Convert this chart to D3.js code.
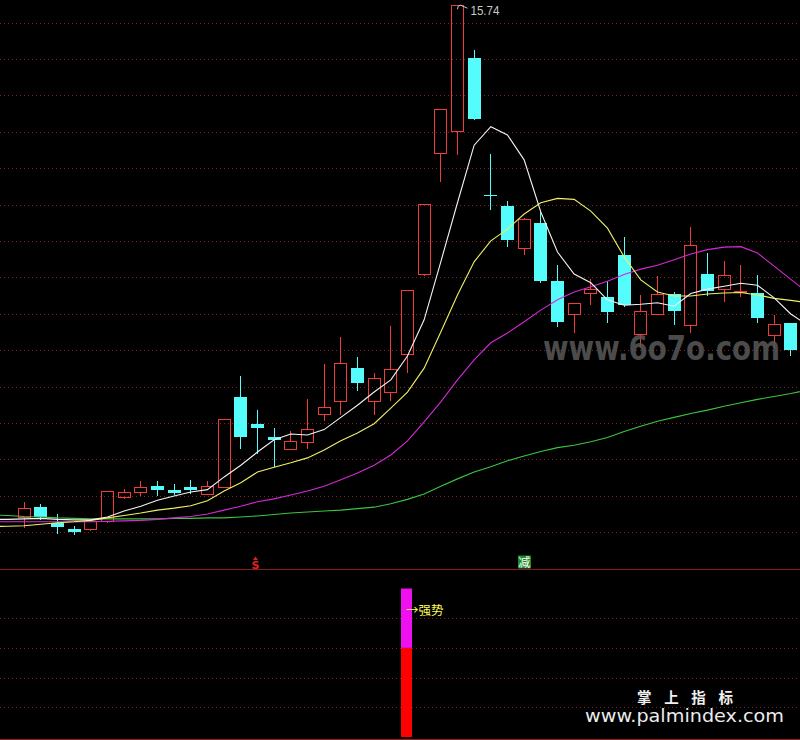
<!DOCTYPE html>
<html><head><meta charset="utf-8">
<script src="https://cdn.jsdelivr.net/npm/d3@7"></script>
<style>html,body{margin:0;padding:0;background:#000;overflow:hidden}</style>
</head><body><svg id="c" width="800" height="740"></svg>
<script>
// ---------- DATA ----------
const days = ["D00","D01","D02","D03","D04","D05","D06","D07","D08","D09","D10","D11","D12","D13","D14","D15","D16","D17","D18","D19","D20","D21","D22","D23","D24","D25","D26","D27","D28","D29","D30","D31","D32","D33","D34","D35","D36","D37","D38","D39","D40","D41","D42","D43","D44","D45","D46","D47","D48","D49"];
const openP  = [null,null,5.25,5.45,5.13,5.00,5.00,5.17,5.66,5.77,5.88,5.80,5.86,5.71,5.86,7.70,7.15,6.89,6.64,6.78,7.35,7.62,8.30,7.63,7.82,8.58,10.24,12.70,13.16,14.65,11.84,11.62,10.77,11.28,10.09,9.40,9.85,9.76,10.62,9.00,9.42,9.82,9.19,10.24,9.92,9.86,9.85,8.97,9.22,null];
const highP  = [null,null,5.55,5.52,5.32,5.06,5.17,5.78,5.82,5.99,5.99,5.93,6.01,5.99,7.25,8.14,7.44,7.07,7.01,7.67,8.39,8.94,8.52,8.21,9.16,9.90,11.66,13.61,15.74,14.82,12.69,11.73,11.38,11.50,10.41,9.63,10.13,10.09,10.99,9.80,10.19,9.87,11.19,10.67,10.50,10.41,10.20,9.39,9.22,null];
const lowP   = [null,null,5.02,5.21,4.93,4.91,4.96,5.13,5.62,5.68,5.70,5.71,5.75,5.69,5.84,6.67,6.57,6.29,6.64,6.64,7.22,7.34,7.85,7.34,7.63,8.21,10.19,12.11,12.66,13.41,11.56,10.81,10.61,10.06,9.17,9.03,9.59,9.25,9.57,8.74,9.41,9.21,9.03,9.79,9.65,9.76,9.25,8.71,8.57,null];
const closeP = [null,null,5.43,5.25,5.05,4.95,5.17,5.78,5.76,5.86,5.80,5.75,5.80,5.88,7.25,6.89,7.08,6.83,6.80,7.05,7.50,8.40,8.00,8.09,8.28,9.90,11.66,13.61,15.74,13.41,11.83,10.93,11.35,10.09,9.25,9.63,9.92,9.46,9.59,9.47,9.83,9.48,10.82,9.88,10.20,9.88,9.33,9.20,8.67,null];
const ma5  = [5.20,5.20,5.21,5.22,5.20,5.19,5.19,5.25,5.37,5.47,5.59,5.68,5.76,5.81,6.07,6.31,6.58,6.83,6.95,6.93,7.04,7.29,7.54,7.81,8.06,8.55,9.29,10.48,11.69,12.87,13.25,13.08,12.57,11.50,10.68,10.23,10.05,9.70,9.59,9.61,9.64,9.57,9.83,9.92,9.98,10.04,10.00,9.74,9.41,9.18];
const ma10 = [5.05,5.06,5.07,5.10,5.13,5.15,5.18,5.23,5.28,5.33,5.39,5.43,5.48,5.58,5.78,5.95,6.17,6.27,6.36,6.46,6.62,6.81,6.97,7.16,7.48,7.81,8.30,9.04,9.80,10.48,10.91,11.15,11.46,11.69,11.78,11.76,11.52,11.17,10.58,10.11,9.86,9.78,9.78,9.82,9.84,9.85,9.80,9.73,9.69,9.64];
const ma20 = [5.15,5.15,5.15,5.15,5.15,5.15,5.15,5.16,5.17,5.18,5.20,5.23,5.26,5.31,5.39,5.47,5.56,5.62,5.70,5.78,5.88,6.01,6.15,6.31,6.52,6.81,7.20,7.61,8.06,8.47,8.82,9.02,9.25,9.49,9.70,9.86,9.97,10.08,10.22,10.33,10.41,10.52,10.64,10.73,10.78,10.79,10.66,10.39,10.12,9.85];
const ma60 = [5.29,5.28,5.26,5.25,5.23,5.22,5.21,5.21,5.21,5.21,5.21,5.22,5.22,5.23,5.23,5.25,5.27,5.30,5.33,5.35,5.37,5.39,5.42,5.45,5.52,5.61,5.72,5.88,6.03,6.17,6.28,6.40,6.50,6.59,6.67,6.72,6.79,6.88,7.00,7.11,7.21,7.29,7.37,7.44,7.52,7.59,7.66,7.72,7.78,7.85];
const priceGrid = [15.38,14.63,13.89,13.14,12.40,11.65,10.90,10.16,9.41,8.67,7.92,7.17,6.43,5.68,4.94];
const paneBottomPrice = 4.19;
const maxLabel = "15.74";
const signalS = "D16";
const signalJian = "D32";
const strongDay = "D25";
const strongBase = 3;   // red part of bar
const strongTop = 5;    // magenta top
const lowerGrid = [1,2,3,4];
const strongText = "→强势";

// ---------- DRAW ----------
const W = 800, H = 740;
const svg = d3.select("#c");
svg.append("rect").attr("width", W).attr("height", H).attr("fill", "#000");

const x = d3.scalePoint().domain(days).range([-9.2, 807.47]);
const y = d3.scaleLinear().domain([4.90, 15.74]).range([534, 5.2]);
const y2 = d3.scaleLinear().domain([0, 5]).range([737, 588.5]);

const gridColor = "#7e2626";
svg.append("g").selectAll("line").data(priceGrid).join("line")
  .attr("x1", 0).attr("x2", W)
  .attr("y1", d => Math.round(y(d)) + 0.5).attr("y2", d => Math.round(y(d)) + 0.5)
  .attr("stroke", gridColor).attr("stroke-width", 1).attr("stroke-dasharray", "1,3")
  .attr("shape-rendering", "crispEdges");
svg.append("g").selectAll("line").data(lowerGrid).join("line")
  .attr("x1", 0).attr("x2", W)
  .attr("y1", d => Math.round(y2(d)) + 0.5).attr("y2", d => Math.round(y2(d)) + 0.5)
  .attr("stroke", gridColor).attr("stroke-width", 1).attr("stroke-dasharray", "1,3")
  .attr("shape-rendering", "crispEdges");
const sepY = Math.round(y(paneBottomPrice)) + 0.5;
svg.append("line").attr("x1", 0).attr("x2", W).attr("y1", sepY).attr("y2", sepY)
  .attr("stroke", "#8c1c1c").attr("stroke-width", 1.5).attr("shape-rendering", "crispEdges");
svg.append("line").attr("x1", 0).attr("x2", W).attr("y1", 739.5).attr("y2", 739.5)
  .attr("stroke", "#9a1a1a").attr("stroke-width", 1).attr("shape-rendering", "crispEdges");

// candles
const RED = "#f03c3c", CYAN = "#54fcfc";
const cg = svg.append("g").attr("shape-rendering", "crispEdges");
days.forEach((d, i) => {
  if (openP[i] == null) return;
  const o = openP[i], c = closeP[i], h = highP[i], l = lowP[i];
  const left = Math.round(x(d) - 6.5);
  const wx = left + 6.5;
  const top = Math.round(y(Math.max(o, c)));
  const bot = Math.round(y(Math.min(o, c)));
  const yh = Math.round(y(h)), yl = Math.round(y(l));
  if (c >= o) {
    if (yh < top) cg.append("line").attr("x1", wx).attr("x2", wx).attr("y1", yh).attr("y2", top).attr("stroke", RED).attr("stroke-width", 1);
    if (yl > bot) cg.append("line").attr("x1", wx).attr("x2", wx).attr("y1", bot).attr("y2", yl).attr("stroke", RED).attr("stroke-width", 1);
    cg.append("rect").attr("x", left + 0.5).attr("y", top + 0.5).attr("width", 12)
      .attr("height", Math.max(bot - top, 1)).attr("fill", "none").attr("stroke", RED).attr("stroke-width", 1);
  } else {
    cg.append("line").attr("x1", wx).attr("x2", wx).attr("y1", yh).attr("y2", yl + 1).attr("stroke", CYAN).attr("stroke-width", 1);
    cg.append("rect").attr("x", left).attr("y", top).attr("width", 13)
      .attr("height", Math.max(bot - top, 1)).attr("fill", CYAN);
  }
});

// moving averages
const mkLine = d3.line().defined(v => v != null).x((v, i) => x(days[i])).y(v => y(v));
[[ma60, "#3ec43e"], [ma20, "#d42ad4"], [ma10, "#f0f064"], [ma5, "#f4f4f4"]].forEach(([arr, col]) => {
  svg.append("path").attr("d", mkLine(arr)).attr("fill", "none").attr("stroke", col).attr("stroke-width", 1.1);
});

// max label
const maxIdx = highP.indexOf(d3.max(highP.filter(v => v != null)));
const mx = x(days[maxIdx]), my = y(highP[maxIdx]);
svg.append("path").attr("d", `M${mx},${my + 4} Q${mx},${my} ${mx + 3},${my} L${mx + 10},${my + 3}`)
  .attr("fill", "none").attr("stroke", "#c8c8c8").attr("stroke-width", 1);
svg.append("text").attr("x", mx + 13).attr("y", my + 10).text(maxLabel)
  .attr("fill", "#c8c8c8").attr("font-family", "Liberation Sans, Arial, sans-serif").attr("font-size", 13.5)
  .attr("textLength", 29).attr("lengthAdjust", "spacingAndGlyphs");

// signal markers on the bottom of the main pane
const sx = x(signalS) - 2;
svg.append("path").attr("d", `M${sx - 2.5},${sepY - 9.5} L${sx},${sepY - 13} L${sx + 2.5},${sepY - 9.5} Z`).attr("fill", "#e02020");
svg.append("text").attr("x", sx).attr("y", sepY - 1).attr("text-anchor", "middle").text("S")
  .attr("fill", "#e02020").attr("font-family", "DejaVu Sans, sans-serif").attr("font-weight", "bold").attr("font-size", 11);
const jx = x(signalJian);
svg.append("rect").attr("x", Math.round(jx - 6.5)).attr("y", sepY - 14).attr("width", 13).attr("height", 13).attr("fill", "#1e8a2a");
svg.append("text").attr("x", jx).attr("y", sepY - 2.5).attr("text-anchor", "middle").text("减")
  .attr("fill", "#ffffff").attr("font-family", "Noto Sans CJK SC, sans-serif").attr("font-size", 12);

// lower panel bar
const bx = Math.round(x(strongDay) - 6);
svg.append("rect").attr("x", bx).attr("width", 11).attr("y", y2(strongBase)).attr("height", y2(0) - y2(strongBase)).attr("fill", "#ff0000");
svg.append("rect").attr("x", bx).attr("width", 11).attr("y", y2(strongTop)).attr("height", y2(strongBase) - y2(strongTop)).attr("fill", "#ee10ee");
svg.append("text").attr("x", bx + 5).attr("y", 615).text(strongText)
  .attr("fill", "#ffff50").attr("font-family", "Noto Sans CJK SC, sans-serif").attr("font-size", 12.5);

// watermarks
svg.append("text").attr("x", 543).attr("y", 360).text("www.6o7o.com")
  .attr("fill", "#5a5a5a").attr("fill-opacity", 0.85).attr("font-family", "DejaVu Sans, sans-serif")
  .attr("font-weight", "bold").attr("font-size", 33).attr("textLength", 237).attr("lengthAdjust", "spacingAndGlyphs");
svg.append("text").attr("x", 637).attr("y", 703).text("掌 上 指 标")
  .attr("fill", "#f0f0f0").attr("font-family", "Noto Sans CJK SC, sans-serif").attr("font-weight", "bold")
  .attr("font-size", 14.5).attr("textLength", 96).attr("lengthAdjust", "spacing");
svg.append("text").attr("x", 585).attr("y", 722).text("www.palmindex.com")
  .attr("fill", "#ececec").attr("font-family", "DejaVu Sans, sans-serif")
  .attr("font-size", 18.5).attr("textLength", 199).attr("lengthAdjust", "spacingAndGlyphs");
</script></body></html>
